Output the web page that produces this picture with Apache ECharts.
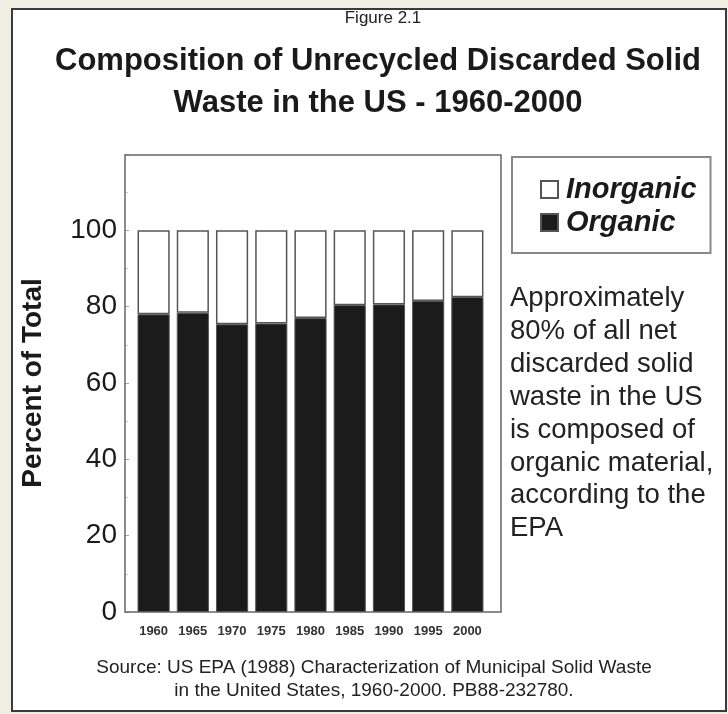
<!DOCTYPE html>
<html>
<head>
<meta charset="utf-8">
<script src="https://cdn.jsdelivr.net/npm/echarts@6/dist/echarts.min.js"></script>
<style>
  html, body { margin: 0; padding: 0; background: #efefe3; }
  #chart { width: 728px; height: 714px; }
</style>
</head>
<body>
<div id="chart"></div>
<script>
// Share of discarded solid waste by type, percent of total
const years = ['1960', '1965', '1970', '1975', '1980', '1985', '1990', '1995', '2000'];
const organic = [78, 78.4, 75.4, 75.6, 77, 80.4, 80.6, 81.5, 82.5];
const inorganic = [22, 21.6, 24.6, 24.4, 23, 19.6, 19.4, 18.5, 17.5];
const yTicks = [0, 20, 40, 60, 80, 100];

const FONT = '"Liberation Sans", Arial, sans-serif';

const noteLines = [
  'Approximately',
  '80% of all net',
  'discarded solid',
  'waste in the US',
  'is composed of',
  'organic material,',
  'according to the',
  'EPA'
];

const chart = echarts.init(document.getElementById('chart'), null, { renderer: 'canvas' });

chart.setOption({
  backgroundColor: '#efefe3',
  animation: false,
  textStyle: { fontFamily: FONT },
  title: [
    {
      text: 'Figure 2.1',
      left: 378, top: 5, textAlign: 'center',
      textStyle: { fontSize: 17, fontWeight: 'normal', color: '#222', fontFamily: FONT }
    },
    {
      text: 'Composition of Unrecycled Discarded Solid\nWaste in the US - 1960-2000',
      left: 373, top: 35, textAlign: 'center',
      textStyle: { fontSize: 31, fontWeight: 'bold', color: '#1a1a1a', lineHeight: 42, fontFamily: FONT }
    },
    {
      text: noteLines.join('\n'),
      left: 505, top: 277,
      textStyle: { fontSize: 27.5, fontWeight: 'normal', color: '#222', lineHeight: 32.9, fontFamily: FONT }
    },
    {
      text: 'Source: US EPA (1988) Characterization of Municipal Solid Waste\nin the United States, 1960-2000. PB88-232780.',
      left: 369, top: 651, textAlign: 'center',
      textStyle: { fontSize: 19, fontWeight: 'normal', color: '#222', lineHeight: 23, fontFamily: FONT }
    }
  ],
  graphic: [
    {
      type: 'rect', z: -10, silent: true,
      shape: { x: 12, y: 9, width: 714, height: 702 },
      style: { fill: '#ffffff', stroke: '#3a3a3a', lineWidth: 2 }
    },
    {
      type: 'rect', z: 1, silent: true,
      shape: { x: 125, y: 155, width: 376, height: 457 },
      style: { fill: 'none', stroke: '#666', lineWidth: 1.5 }
    }
  ],
  legend: {
    orient: 'vertical',
    left: 512, top: 157,
    padding: [18, 14, 16, 28],
    itemGap: 4,
    itemWidth: 17, itemHeight: 17,
    borderColor: '#888', borderWidth: 2,
    icon: 'rect',
    data: ['Inorganic', 'Organic'],
    textStyle: { fontSize: 29, fontWeight: 'bold', fontStyle: 'italic', color: '#1a1a1a', fontFamily: FONT, padding: [0, 0, 0, 3] }
  },
  grid: { left: 134, right: 241, top: 154, bottom: 102, containLabel: false },
  xAxis: {
    type: 'category',
    data: years,
    axisLine: { show: false },
    axisTick: { show: false },
    axisLabel: { fontSize: 13, fontWeight: 'bold', color: '#333', margin: 13, fontFamily: FONT }
  },
  yAxis: {
    type: 'value',
    min: 0, max: 120, interval: 20,
    offset: 9,
    name: 'Percent of Total',
    nameLocation: 'middle',
    nameRotate: 90,
    nameGap: 78,
    nameTextStyle: { fontSize: 28, fontWeight: 'bold', color: '#1a1a1a', fontFamily: FONT },
    axisLine: { show: false },
    axisTick: { show: true, inside: true, length: 4, lineStyle: { color: '#aaa' } },
    minorTick: { show: true, splitNumber: 2, length: 3, lineStyle: { color: '#ccc' } },
    splitLine: { show: false },
    axisLabel: {
      fontSize: 28, color: '#1a1a1a', margin: 8, fontFamily: FONT,
      formatter: function (v) { return yTicks.indexOf(v) >= 0 ? String(v) : ''; }
    }
  },
  series: [
    {
      name: 'Organic',
      type: 'bar',
      stack: 'total',
      data: organic,
      barCategoryGap: '18%',
      itemStyle: { color: '#1b1b1b', borderColor: '#555', borderWidth: 1 }
    },
    {
      name: 'Inorganic',
      type: 'bar',
      stack: 'total',
      data: inorganic,
      barCategoryGap: '18%',
      itemStyle: { color: '#ffffff', borderColor: '#555', borderWidth: 1.5 }
    }
  ]
});
</script>
</body>
</html>
